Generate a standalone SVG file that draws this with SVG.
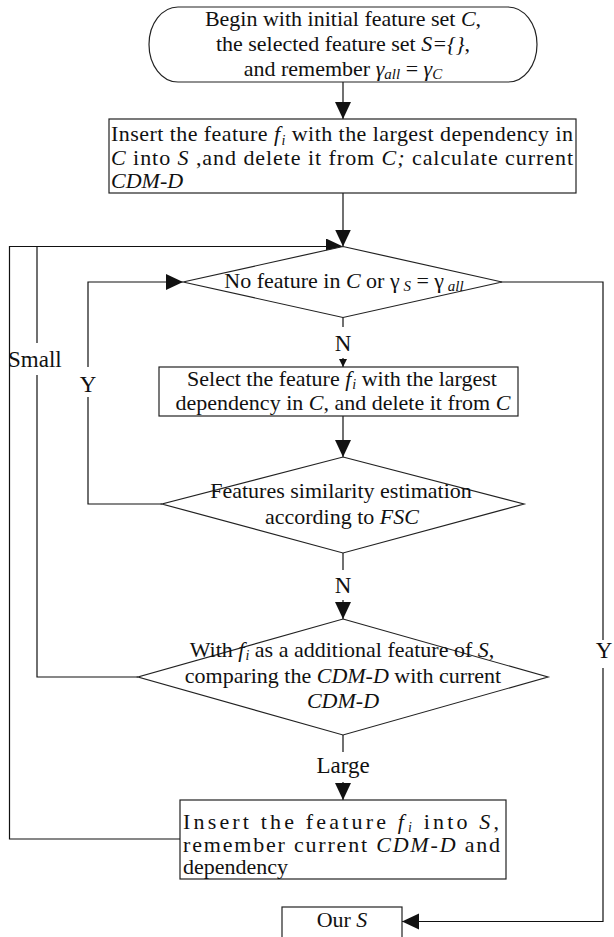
<svg xmlns="http://www.w3.org/2000/svg" width="614" height="937" viewBox="0 0 614 937">
  <style>
    .shape { fill: #ffffff; stroke: #222222; stroke-width: 1.2; }
    .wire { fill: none; stroke: #111111; stroke-width: 1.2; }
    .txt { font-family: "Liberation Serif", "Times New Roman", serif; font-size: 22px; fill: #111111; }
    .lbl { font-family: "Liberation Serif", "Times New Roman", serif; font-size: 23px; fill: #111111; }
    .it { font-style: italic; }
    .mid { text-anchor: middle; }
  </style>
  <defs>
    <marker id="ah" markerUnits="userSpaceOnUse" markerWidth="18" markerHeight="18" refX="17" refY="8" orient="auto">
      <path d="M0,0 L17,8 L0,16 z" fill="#111111"/>
    </marker>
    <marker id="ahs" markerUnits="userSpaceOnUse" markerWidth="10" markerHeight="10" refX="8" refY="4" orient="auto">
      <path d="M0,0 L8,4 L0,8 z" fill="#111111"/>
    </marker>
  </defs>

  <rect width="614" height="937" fill="#ffffff"/>

  <!-- connectors -->
  <g id="connectors">
    <path class="wire" d="M343,82 L343,119" marker-end="url(#ah)"/>
    <path class="wire" d="M343,193 L343,246.5" marker-end="url(#ah)"/>
    <!-- outer loop from the insert box back to the test -->
    <path class="wire" d="M180,839 L9.5,839 L9.5,246.5 L343,246.5" marker-end="url(#ah)"/>
    <!-- inner loop from the comparison diamond (label "Small") -->
    <path class="wire" d="M138,677 L37,677 L37,375"/>
    <path class="wire" d="M37,343 L37,246.5"/>
    <!-- similarity loop (label "Y") -->
    <path class="wire" d="M162,504 L88,504 L88,397"/>
    <path class="wire" d="M88,367 L88,282 L183,282" marker-end="url(#ah)"/>
    <!-- N branches -->
    <path class="wire" d="M343,317 L343,327"/>
    <path class="wire" d="M343,358 L343,367" marker-end="url(#ahs)"/>
    <path class="wire" d="M343,416 L343,457" marker-end="url(#ah)"/>
    <path class="wire" d="M343,553 L343,570"/>
    <path class="wire" d="M343,600 L343,619" marker-end="url(#ah)"/>
    <path class="wire" d="M343,735 L343,752"/>
    <path class="wire" d="M343,782 L343,800" marker-end="url(#ah)"/>
    <!-- exit branch (label "Y") -->
    <path class="wire" d="M500,282 L603,282 L603,640"/>
    <path class="wire" d="M603,668 L603,921.5 L402,921.5" marker-end="url(#ah)"/>
  </g>

  <!-- branch labels -->
  <g id="labels">
    <text class="lbl" x="8" y="367">Small</text>
    <text class="lbl mid" x="88" y="392">Y</text>
    <text class="lbl mid" x="343" y="351">N</text>
    <text class="lbl mid" x="343" y="593">N</text>
    <text class="lbl mid" x="343" y="773">Large</text>
    <text class="lbl mid" x="604" y="658">Y</text>
  </g>

  <g id="start">
    <rect class="shape" x="149" y="7" width="388" height="75" rx="29" ry="37.5"/>
    <text class="txt mid" x="343" y="26">Begin with initial feature set <tspan class="it">C</tspan>,</text>
    <text class="txt mid" x="343" y="51">the selected feature set <tspan class="it">S={}</tspan>,</text>
    <text class="txt mid" x="343" y="76">and remember <tspan class="it">γ</tspan><tspan class="it" font-size="15" dy="3">all</tspan><tspan dy="-3"> = </tspan><tspan class="it">γ</tspan><tspan class="it" font-size="15" dy="3">C</tspan></text>
  </g>

  <g id="init">
    <rect class="shape" x="109" y="119" width="467" height="74"/>
    <text class="txt" x="111" y="141" textLength="462" lengthAdjust="spacing">Insert  the feature <tspan class="it">f</tspan><tspan class="it" font-size="14" dx="1" dy="4">i</tspan><tspan dy="-4"> with the largest dependency in</tspan></text>
    <text class="txt" x="111" y="165" textLength="462" lengthAdjust="spacing"><tspan class="it">C</tspan> into <tspan class="it">S</tspan> ,and delete it from <tspan class="it">C;</tspan> calculate current</text>
    <text class="txt it" x="111" y="188">CDM-D</text>
  </g>

  <g id="test">
    <polygon class="shape" points="343,246.5 502,282 343,317.5 183,282"/>
    <text class="txt mid" x="344" y="288">No feature in <tspan class="it">C</tspan> or γ<tspan class="it" font-size="15" dy="3"> S</tspan><tspan dy="-3"> = γ</tspan><tspan class="it" font-size="15" dy="3"> all</tspan></text>
  </g>

  <g id="select">
    <rect class="shape" x="159" y="367" width="359" height="49"/>
    <text class="txt mid" x="342" y="386">Select  the feature <tspan class="it">f</tspan><tspan class="it" font-size="14" dx="1" dy="3">i</tspan><tspan dy="-3"> with the largest</tspan></text>
    <text class="txt mid" x="343" y="410">dependency in <tspan class="it">C</tspan>, and delete it from <tspan class="it">C</tspan></text>
  </g>

  <g id="similarity">
    <polygon class="shape" points="343,457 524,504 343,553 162,504"/>
    <text class="txt mid" x="341" y="498">Features similarity estimation</text>
    <text class="txt mid" x="342" y="524">according to <tspan class="it">FSC</tspan></text>
  </g>

  <g id="compare">
    <polygon class="shape" points="343,619 548,677 343,735 138,677"/>
    <text class="txt mid" x="342" y="657">With <tspan class="it">f</tspan><tspan class="it" font-size="14" dx="1" dy="3">i</tspan><tspan dy="-3">  as a additional feature of <tspan class="it">S</tspan>,</tspan></text>
    <text class="txt mid" x="343" y="683">comparing the <tspan class="it">CDM-D</tspan> with current</text>
    <text class="txt mid it" x="343" y="708">CDM-D</text>
  </g>

  <g id="insert">
    <rect class="shape" x="180" y="800" width="326" height="79"/>
    <text class="txt" x="183" y="829" textLength="316" lengthAdjust="spacing">Insert  the feature <tspan class="it">f</tspan><tspan class="it" font-size="14" dx="1" dy="3">i</tspan><tspan dy="-3">  into <tspan class="it">S</tspan>,</tspan></text>
    <text class="txt" x="183" y="852" textLength="317" lengthAdjust="spacing">remember current <tspan class="it">CDM-D</tspan> and</text>
    <text class="txt" x="183" y="874">dependency</text>
  </g>

  <g id="result">
    <rect class="shape" x="282" y="907" width="120" height="40"/>
    <text class="txt mid" x="342" y="927">Our <tspan class="it">S</tspan></text>
  </g>
</svg>
